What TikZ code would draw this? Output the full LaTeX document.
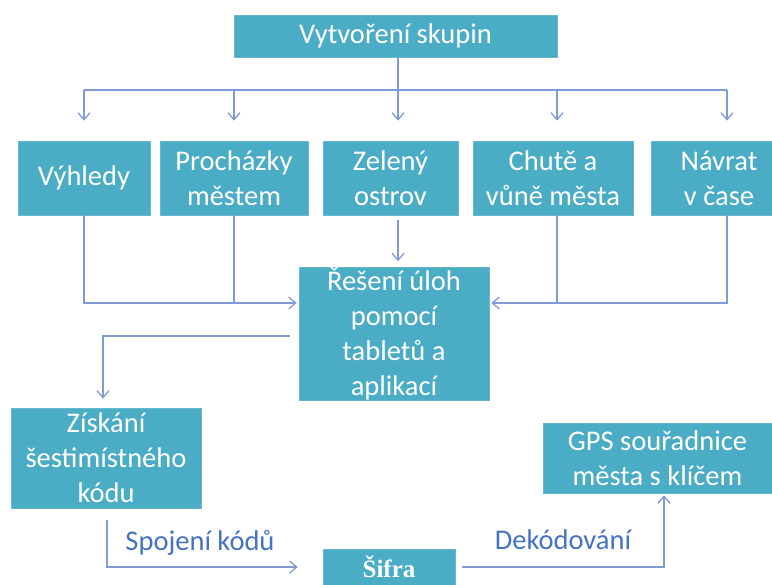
\documentclass[tikz,border=0pt]{standalone}
\usepackage{fontspec}
\setmainfont{Carlito}
\newfontfamily\serifbold{Liberation Serif}
\usetikzlibrary{arrows.meta}
\definecolor{boxfill}{HTML}{4BACC6}
\definecolor{linec}{HTML}{7F9BD6}
\definecolor{labc}{HTML}{4472C4}
\tikzset{
  bx/.style={fill=boxfill, draw=boxfill!85!white, line width=0.6pt, text=white, inner sep=0pt, align=center,
    font=\fontsize{28.5}{35}\selectfont},
  conn/.style={draw=linec, line width=1.3pt},
  arr/.style={conn, -{Straight Barb[length=7pt,width=12pt]}},
  lab/.style={text=labc, font=\fontsize{28.5}{35}\selectfont, inner sep=0pt}
}
\begin{document}
\begin{tikzpicture}[x=1pt,y=-1pt]
\useasboundingbox (0,0) rectangle (772,585);
% boxes
\node[bx, minimum width=323pt, minimum height=42pt] (top) at (395.5,36) {Vytvoření skupin};
\node[bx, minimum width=132pt, minimum height=74pt] (vyh) at (84,178) {Výhledy};
\node[bx, minimum width=148pt, minimum height=74pt] (pro) at (234,178) {Procházky\\městem};
\node[bx, minimum width=135pt, minimum height=74pt] (zel) at (390.5,178) {Zelený\\ostrov};
\node[bx, minimum width=160pt, minimum height=74pt] (chu) at (553,178) {Chutě a\\vůně města};
\node[bx, minimum width=136pt, minimum height=74pt] (nav) at (719,178) {Návrat\\v čase};
\node[bx, minimum width=190pt, minimum height=130pt] (res) at (394,334) {Řešení úloh\\pomocí\\tabletů a\\aplikací};
\node[bx, minimum width=190pt, minimum height=100pt] (zis) at (106,458) {Získání\\šestimístného\\kódu};
\node[bx, minimum width=229pt, minimum height=70pt] (gps) at (657.5,458) {GPS souřadnice\\města s klíčem};
\node[bx, minimum width=132pt, minimum height=36pt, font=\serifbold\bfseries\fontsize{25}{30}\selectfont] (sif) at (389,567) {Šifra};
% column coordinates
\coordinate (c1) at (84,90);
\coordinate (c2) at (234,90);
\coordinate (c3) at (398,90);
\coordinate (c4) at (557,90);
\coordinate (c5) at (727,90);
\coordinate (j1) at (84,303);
\coordinate (j5) at (727,303);
% top distribution
\draw[conn] (top.south -| c3) -- (c3);
\draw[conn] (c1) -- (c5);
\draw[arr, shorten >=20pt] (c1) -- (vyh.north -| c1);
\draw[arr, shorten >=20pt] (c2) -- (pro.north -| c2);
\draw[arr, shorten >=20pt] (c3) -- (zel.north -| c3);
\draw[arr, shorten >=20pt] (c4) -- (chu.north -| c4);
\draw[arr, shorten >=20pt] (c5) -- (nav.north -| c5);
% gathering into res
\draw[arr, shorten >=2pt] (vyh.south -| c1) -- (j1) -- (j1 -| res.west);
\draw[conn] (pro.south -| c2) -- (j1 -| c2);
\draw[arr, shorten <=5pt, shorten >=6pt] (zel.south -| c3) -- (res.north -| c3);
\draw[arr, shorten >=2pt] (nav.south -| c5) -- (j5) -- (j5 -| res.east);
\draw[conn] (chu.south -| c4) -- (j5 -| c4);
% res -> zis
\coordinate (k1) at (103,336);
\draw[arr, shorten <=9pt, shorten >=9pt] (res.west |- k1) -- (k1) -- (zis.north -| k1);
% zis -> sif
\coordinate (k2) at (107,567);
\draw[arr, shorten <=12pt, shorten >=25pt] (zis.south -| k2) -- (k2) -- (k2 -| sif.west);
% sif -> gps
\coordinate (k3) at (664,567);
\draw[arr, shorten <=7pt, shorten >=2pt] (sif.east |- k3) -- (k3) -- (gps.south -| k3);
% labels
\node[lab] (l1) at (200,543) {Spojení kódů};
\node[lab] (l2) at (563,540) {Dekódování};
\end{tikzpicture}
\end{document}
